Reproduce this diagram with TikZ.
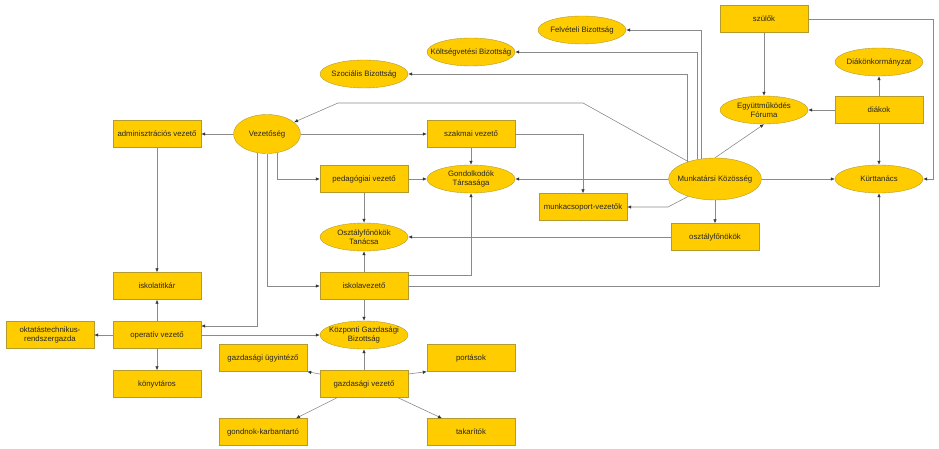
\documentclass[tikz,border=0pt]{standalone}
\usepackage{fontspec}
\setmainfont{Liberation Sans}
\usetikzlibrary{shapes.geometric,arrows.meta}
\definecolor{gold}{HTML}{FFCC00}
\definecolor{goldline}{HTML}{B39B2E}
\definecolor{wire}{HTML}{8A8A8A}
\tikzset{
  box/.style={draw=goldline, fill=gold, minimum width=88pt, minimum height=27pt,
    inner sep=1pt, align=center, text=black!85,
    font=\fontsize{7.8}{9.3}\selectfont},
  oval/.style={box, ellipse, minimum height=28pt, inner xsep=-10pt, inner ysep=0pt},
  link/.style={draw=wire, line width=0.6pt,
    -{Latex[length=4pt,width=3.5pt,color=black!80]}}
}
\begin{document}
\begin{tikzpicture}[x=1pt,y=-1pt]
\useasboundingbox (0,0) rectangle (939,449);
% left column
\node[box] (admin) at (157,134) {adminisztrációs vezető};
\node[box] (titkar) at (157,286) {iskolatitkár};
\node[box] (oper) at (157,335) {operatív vezető};
\node[box] (okt) at (50,335) {oktatástechnikus-\\rendszergazda};
\node[box] (konyv) at (157,384) {könyvtáros};
% leadership
\node[oval, minimum width=67pt, minimum height=39pt] (vez) at (267,134) {Vezetőség};
\node[box] (szakmai) at (471,134) {szakmai vezető};
\node[box] (ped) at (364,179) {pedagógiai vezető};
\node[oval] (gond) at (471,179) {Gondolkodók\\Társasága};
\node[oval] (otan) at (364,237) {Osztályfőnökök\\Tanácsa};
\node[box] (isk) at (364,286) {iskolavezető};
\node[box] (munkacs) at (583,207) {munkacsoport-vezetők};
% committees
\node[oval] (felv) at (582,30) {Felvételi Bizottság};
\node[oval] (kolt) at (471,52) {Költségvetési Bizottság};
\node[oval] (szoc) at (364,74) {Szociális Bizottság};
% staff, parents, students
\node[oval, minimum width=93pt, minimum height=42pt] (mk) at (715,179) {Munkatársi Közösség};
\node[box] (ofo) at (715,237) {osztályfőnökök};
\node[oval] (forum) at (764,110) {Együttműködés\\Fóruma};
\node[box] (szulok) at (764,19) {szülők};
\node[oval] (dok) at (879,62) {Diákönkormányzat};
\node[box] (diakok) at (879,110) {diákok};
\node[oval] (kurt) at (879,179) {Kürttanács};
% economy
\node[oval] (kgb) at (364,335) {Központi Gazdasági\\Bizottság};
\node[box] (ugyint) at (263,358) {gazdasági ügyintéző};
\node[box] (portas) at (471,358) {portások};
\node[box] (gazd) at (364,384) {gazdasági vezető};
\node[box] (gondnok) at (263,432) {gondnok-karbantartó};
\node[box] (takar) at (471,432) {takarítók};
% bends
\coordinate (bendR) at (583,103);
\coordinate (bendL) at (338,103);
\coordinate (kink) at (668,207);
\coordinate (rim) at (933,19);

\foreach \a/\b in {vez/admin, vez/szakmai, admin/titkar, oper/titkar, oper/okt,
  oper/konyv, oper/kgb, isk/kgb, gazd/kgb, ped/gond, ped/otan, isk/otan,
  szakmai/gond, mk/gond, mk/kurt, ofo/otan, szulok/forum, diakok/dok,
  diakok/forum, diakok/kurt}
  \draw[link] (\a) -- (\b);
\draw[link] (mk) -- (ofo);
\draw[link] (mk.north) -- (forum.south);
\draw[link] (vez.298) |- (ped);
\draw[link] (vez.south) |- (isk);
\draw[link] (vez.242) |- ([yshift=9pt]oper.east);
\draw[link] ([yshift=11pt]isk.east) -| (gond);
\draw[link] (isk) -| (kurt);
\draw[link] (szakmai) -| (munkacs);
\draw[link] (mk.147) -- (bendR) -- (bendL) -- (vez);
\draw[link] (mk.149) |- (szoc);
\draw[link] (mk.133) |- (kolt);
\draw[link] (mk.125) |- (felv);
\draw[link] (mk.213) -- (kink) -- (munkacs);
\draw[link] (szulok) -- (rim) |- (kurt);
\draw[link] ([yshift=10pt]gazd.west) -- (ugyint.south east);
\draw[link] ([yshift=10pt]gazd.east) -- (portas.south west);
\draw[link] ([xshift=-27pt]gazd.south) -- ([xshift=33pt]gondnok.north);
\draw[link] ([xshift=34pt]gazd.south) -- ([xshift=-29pt]takar.north);
\end{tikzpicture}
\end{document}
